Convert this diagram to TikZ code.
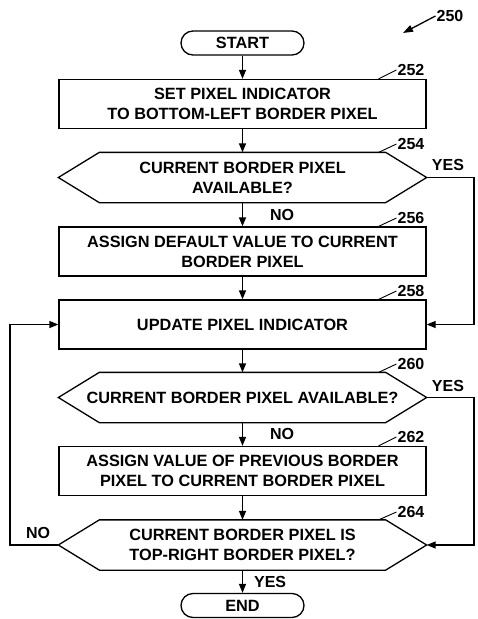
\documentclass[tikz,border=0pt]{standalone}
\usepackage{fontspec}
\setmainfont{Liberation Sans}
\usetikzlibrary{arrows.meta, positioning}
\tikzset{
  bloc/.style={rectangle, draw, line width=1.3pt, font=\bfseries\fontsize{16.3}{20}\selectfont,
    align=center, minimum width=367pt, minimum height=49pt, inner sep=2pt},
  decision/.style={bloc, draw=none},
  terminal/.style={bloc, rounded corners=12pt, minimum width=123pt, minimum height=24pt},
  fleche/.style={-{Triangle[length=9pt, width=7pt]}, line width=1.3pt},
  lien/.style={line width=1.3pt},
  repere/.style={line width=0.9pt},
  etiquette/.style={font=\bfseries\fontsize{16}{20}\selectfont, inner sep=1pt}
}
\newcommand{\contourdecision}[1]{%
  \draw[lien] (#1.west) -- ([xshift=41pt]#1.north west) -- ([xshift=-41pt]#1.north east)
    -- (#1.east) -- ([xshift=-41pt]#1.south east) -- ([xshift=41pt]#1.south west) -- cycle;}

\begin{document}
\begin{tikzpicture}[x=1pt, y=-1pt]
    \useasboundingbox (0,0) rectangle (477,619);

    % Etapes
    \node[terminal] (debut) at (242.5,43)   {START};
    \node[bloc]     (n252)  at (242.5,104)  {SET PIXEL INDICATOR\\ TO BOTTOM-LEFT BORDER PIXEL};
    \node[decision] (n254)  at (242.5,177.5) {CURRENT BORDER PIXEL\\ AVAILABLE?};
    \node[bloc]     (n256)  at (242.5,251.5) {ASSIGN DEFAULT VALUE TO CURRENT\\ BORDER PIXEL};
    \node[bloc]     (n258)  at (242.5,324.5) {UPDATE PIXEL INDICATOR};
    \node[decision] (n260)  at (242.5,397.5) {CURRENT BORDER PIXEL AVAILABLE?};
    \node[bloc]     (n262)  at (242.5,471)   {ASSIGN VALUE OF PREVIOUS BORDER\\ PIXEL TO CURRENT BORDER PIXEL};
    \node[decision] (n264)  at (242.5,545)   {CURRENT BORDER PIXEL IS\\ TOP-RIGHT BORDER PIXEL?};
    \node[terminal] (fin)   at (242.5,605.5) {END};
    \foreach \n in {n254, n260, n264} { \contourdecision{\n} }

    % Reperes
    \node[etiquette] (r250) at (450,16)  {250};
    \node[etiquette] (r252) at (411,70)  {252};
    \node[etiquette] (r254) at (411,144) {254};
    \node[etiquette] (r256) at (411,218) {256};
    \node[etiquette] (r258) at (411,291) {258};
    \node[etiquette] (r260) at (411,364) {260};
    \node[etiquette] (r262) at (411,437) {262};
    \node[etiquette] (r264) at (411,512) {264};
    \coordinate (p250) at (403,33);
    \draw[-{Triangle[length=10pt, width=7pt]}, line width=1.3pt] (r250.west) -- (p250);
    \foreach \n in {252, 254, 256, 258, 260, 262, 264}
      { \draw[repere] ([xshift=-48pt]n\n.north east) -- (r\n.west); }

    % Fleches
    \draw[fleche] (debut) -- (n252);
    \draw[fleche] (n252) -- (n254);
    \draw[fleche] (n254) -- node[etiquette, right=26pt]{NO} (n256);
    \draw[fleche] (n256) -- (n258);
    \draw[fleche] (n258) -- (n260);
    \draw[fleche] (n260) -- node[etiquette, right=26pt]{NO} (n262);
    \draw[fleche] (n262) -- (n264);
    \draw[fleche] (n264) -- node[etiquette, right=10pt]{YES} (fin);

    % Boucles
    \coordinate (droite) at (474,0);
    \coordinate (gauche) at (10,0);
    \draw[fleche] (n254.east) -- (n254.east -| droite) -- (n258.east -| droite) -- (n258.east);
    \draw[fleche] (n260.east) -- (n260.east -| droite) -- (n264.east -| droite) -- (n264.east);
    \draw[fleche] (n264.west) -- (n264.west -| gauche) -- (n258.west -| gauche) -- (n258.west);
    \node[etiquette] (oui254) at (448,165) {YES};
    \node[etiquette] (oui260) at (448,386) {YES};
    \node[etiquette] (non264) at (38,533)  {NO};
  \end{tikzpicture}
\end{document}
